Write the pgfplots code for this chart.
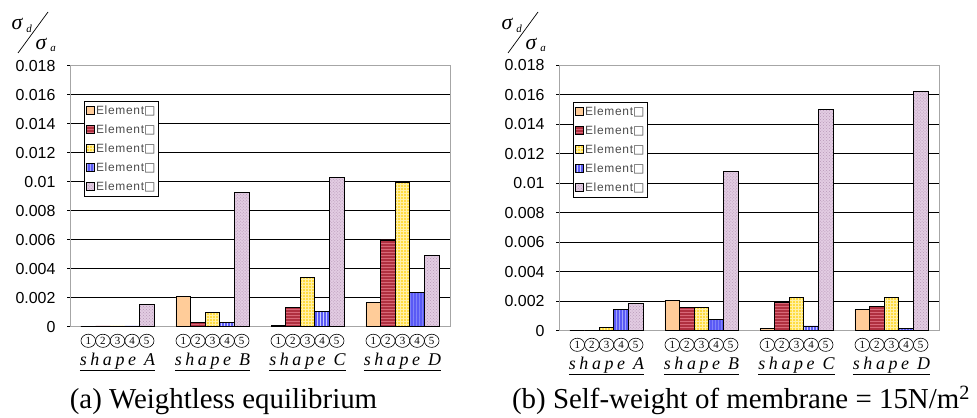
\documentclass[border=0pt]{standalone}
\usepackage{pgfplots}
\usepackage{pgfplotstable}
\pgfplotsset{compat=1.18}
\usetikzlibrary{patterns}
\usepackage{fontspec}
\setmainfont{Liberation Serif}
\newfontfamily\ticksf{Liberation Sans}
\newfontfamily\legsf[LetterSpace=6]{Liberation Sans}
\newfontfamily\sym{DejaVu Sans}
\newfontfamily\shapefont[LetterSpace=20]{Liberation Serif}

\definecolor{cA}{HTML}{FFCC99}
\definecolor{cB}{HTML}{B03040}
\definecolor{cBl}{HTML}{D86878}
\definecolor{cC}{HTML}{FFDC40}
\definecolor{cCl}{HTML}{FFF0A8}
\definecolor{cD}{HTML}{5A5AF5}
\definecolor{cDl}{HTML}{C8CCFF}
\definecolor{cE}{HTML}{E2CCE2}
\definecolor{cEl}{HTML}{B898B8}

\pgfplotstableread{
x e1 e2 e3 e4 e5
1 0 0.00005 0.00005 0.00005 0.00154
2 0.00209 0.00028 0.00097 0.00028 0.00924
3 0.00007 0.00133 0.0034 0.00106 0.0103
4 0.00168 0.00598 0.00993 0.00237 0.00494
}\dataA
\pgfplotstableread{
x e1 e2 e3 e4 e5
1 0 0 0.00023 0.00146 0.00185
2 0.00207 0.00155 0.00155 0.00077 0.01081
3 0.00016 0.00194 0.00225 0.00032 0.0150
4 0.00146 0.00167 0.00225 0.00014 0.0162
}\dataB

\newcommand\cn[1]{\makebox[14.6bp]{\tikz[baseline={(0,-3.6bp)}]{\draw[black, line width=0.6bp] (0,0) ellipse[x radius=7.3bp, y radius=6.6bp]; \pgftext{\fontsize{11}{11}\selectfont #1}}}}
\newcommand\shp[1]{\cn{1}\cn{2}\cn{3}\cn{4}\cn{5}\\[4bp]{\shapefont\itshape\underline{shape #1}}}

\pgfplotsset{
  mychart/.style={
    scale only axis, anchor=south west, width=380bp,
    xmin=0.5, xmax=4.5, ymin=0, ymax=0.018,
    ybar=0pt, bar width=0.154,
    ytick={0,0.002,0.004,0.006,0.008,0.01,0.012,0.014,0.016,0.018},
    scaled y ticks=false,
    /pgf/number format/assume math mode=true,
    yticklabel style={/pgf/number format/fixed, /pgf/number format/precision=3, font=\ticksf\fontsize{16}{16}\selectfont},
    yticklabel shift=8bp,
    ymajorgrids, grid style={black, line width=0.6bp},
    axis line style={gray!70, line width=0.8bp},
    ytick style={black, line width=0.6bp}, tick align=outside, major tick length=3bp,
    ytick pos=left, xtick pos=bottom,
    xtick={1,2,3,4},
    xticklabels={{\shp{A}},{\shp{B}},{\shp{C}},{\shp{D}}},
    x tick style={draw=none}, major x tick style={draw=none},
    xticklabel style={align=center, anchor=north, inner sep=0pt, font=\fontsize{18}{15}\selectfont},
    xticklabel shift=4bp,
    legend cell align=left,
    legend style={at={(0.037,0.865)}, anchor=north west, draw=black, line width=0.7bp, fill=white,
      font=\legsf\fontsize{12}{12}\selectfont, text=black!70,
      nodes={inner sep=1bp, text height=10bp, text depth=3bp}, row sep=4bp, inner xsep=2bp, inner ysep=2bp},
    legend image code/.code={\draw[#1, line width=0.6bp] (0bp,-4bp) rectangle (8bp,4bp);},
  },
  b1/.style={draw=black, line width=0.7bp, fill=cA},
  b2/.style={draw=black, line width=0.7bp, fill=cB, postaction={pattern=horizontal lines, pattern color=cBl}},
  b3/.style={draw=black, line width=0.7bp, fill=cC, postaction={pattern=grid, pattern color=cCl}},
  b4/.style={draw=black, line width=0.7bp, fill=cD, postaction={pattern=vertical lines, pattern color=cDl}},
  b5/.style={draw=black, line width=0.7bp, fill=cE, postaction={pattern=crosshatch dots, pattern color=cEl}},
}

\begin{document}
\begin{tikzpicture}[x=1bp,y=1bp]
\path[use as bounding box] (0,0) rectangle (977,417);

\begin{axis}[mychart, at={(70bp,90.3bp)}, height=261bp]
\addplot[b1] table[x=x,y=e1]{\dataA}; \addlegendentry{Element{\sym □}}
\addplot[b2] table[x=x,y=e2]{\dataA}; \addlegendentry{Element{\sym □}}
\addplot[b3] table[x=x,y=e3]{\dataA}; \addlegendentry{Element{\sym □}}
\addplot[b4] table[x=x,y=e4]{\dataA}; \addlegendentry{Element{\sym □}}
\addplot[b5] table[x=x,y=e5]{\dataA}; \addlegendentry{Element{\sym □}}
\end{axis}

\begin{axis}[mychart, at={(559bp,86.3bp)}, height=265.7bp, legend style={at={(0.037,0.861)}}]
\addplot[b1] table[x=x,y=e1]{\dataB}; \addlegendentry{Element{\sym □}}
\addplot[b2] table[x=x,y=e2]{\dataB}; \addlegendentry{Element{\sym □}}
\addplot[b3] table[x=x,y=e3]{\dataB}; \addlegendentry{Element{\sym □}}
\addplot[b4] table[x=x,y=e4]{\dataB}; \addlegendentry{Element{\sym □}}
\addplot[b5] table[x=x,y=e5]{\dataB}; \addlegendentry{Element{\sym □}}
\end{axis}

% y-axis label sigma_d / sigma_a
\foreach \dx in {0,490}{
  \begin{scope}[xshift=\dx bp]
  \node[font=\itshape\fontsize{22}{22}\selectfont, inner sep=0pt] at (17,393) {σ};
  \node[font=\itshape\fontsize{11}{11}\selectfont, inner sep=0pt] at (29,388) {d};
  \draw[line width=0.7bp] (18,364) -- (48,405);
  \node[font=\itshape\fontsize{22}{22}\selectfont, inner sep=0pt] at (41,373) {σ};
  \node[font=\itshape\fontsize{11}{11}\selectfont, inner sep=0pt] at (53,368) {a};
  \end{scope}
}

\node[anchor=base, font=\fontsize{29}{29}\selectfont, inner sep=0pt] at (223.5,9) {(a) Weightless equilibrium};
\node[anchor=base, font=\fontsize{29}{29}\selectfont, inner sep=0pt] at (741,9) {(b) Self-weight of membrane = 15N/m\textsuperscript{2}};
\end{tikzpicture}
\end{document}
